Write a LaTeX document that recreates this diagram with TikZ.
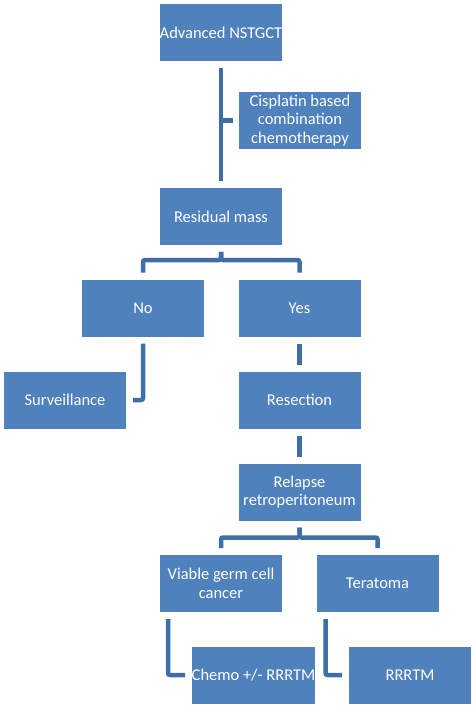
\documentclass[tikz,border=0pt]{standalone}
\usepackage{fontspec}
\setmainfont{Carlito}
\usetikzlibrary{calc}

\definecolor{boxblue}{HTML}{4F81BD}
\definecolor{lineblue}{HTML}{3E6DA8}

\tikzset{
  stepbox/.style={rectangle, fill=boxblue, draw=white, line width=1pt,
    minimum width=123pt, minimum height=58pt, inner sep=0pt,
    text=white, align=center, font=\fontsize{16.5}{18.5}\selectfont},
  conn/.style={draw=lineblue, line width=4.5pt, rounded corners=2pt,
    shorten <=6pt, shorten >=6pt}
}

\begin{document}
\begin{tikzpicture}[x=1pt, y=-1pt]
\def \xmid   {221};
\def \xright {299.5};
\def \xfar   {377.5};

\def \yadv    {32.5};
\def \ycis    {120.5};
\def \yres    {216.5};
\def \yno     {308};
\def \ysurv   {400};
\def \yrel    {492};
\def \yviable {583.5};
\def \ychemo  {675};

\useasboundingbox (0,0) rectangle (475,708);

\node [stepbox] (adv)     at (\xmid, \yadv)     {Advanced NSTGCT};
\node [stepbox] (cis)     at (300, \ycis)       {Cisplatin based\\combination\\chemotherapy};
\node [stepbox] (res)     at (\xmid, \yres)     {Residual mass};
\node [stepbox] (no)      at (143, \yno)        {No};
\node [stepbox] (yes)     at (\xright, \yno)    {Yes};
\node [stepbox] (surv)    at (65, \ysurv)       {Surveillance};
\node [stepbox] (resec)   at (\xright, \ysurv)  {Resection};
\node [stepbox] (relapse) at (\xright, \yrel)   {Relapse\\retroperitoneum};
\node [stepbox] (viable)  at (\xmid, \yviable)  {Viable germ cell\\cancer};
\node [stepbox] (tera)    at (\xfar, \yviable)  {Teratoma};
\node [stepbox] (chemo)   at (253.5, \ychemo)   {Chemo +/- RRRTM};
\node [stepbox] (rrrtm)   at (410, \ychemo)     {RRRTM};

% trunk with side branch
\draw [conn] (adv.south) -- (res.north);
\draw [conn, shorten <=0pt, shorten >=5pt] (adv.south |- cis.west) -- (cis.west);

% forks
\draw [conn] (res.south) -- ++(0,14) -| (no.north);
\draw [conn] (res.south) -- ++(0,14) -| (yes.north);
\draw [conn] (relapse.south) -- ++(0,16) -| (viable.north);
\draw [conn] (relapse.south) -- ++(0,16) -| (tera.north);

% straight and elbow links
\draw [conn] (no.south) |- (surv.east);
\draw [conn] (yes.south) -- (resec.north);
\draw [conn] (resec.south) -- (relapse.north);
\draw [conn] ([xshift=9pt]viable.south west) |- (chemo.west);
\draw [conn] ([xshift=10pt]tera.south west) |- (rrrtm.west);

\end{tikzpicture}
\end{document}
